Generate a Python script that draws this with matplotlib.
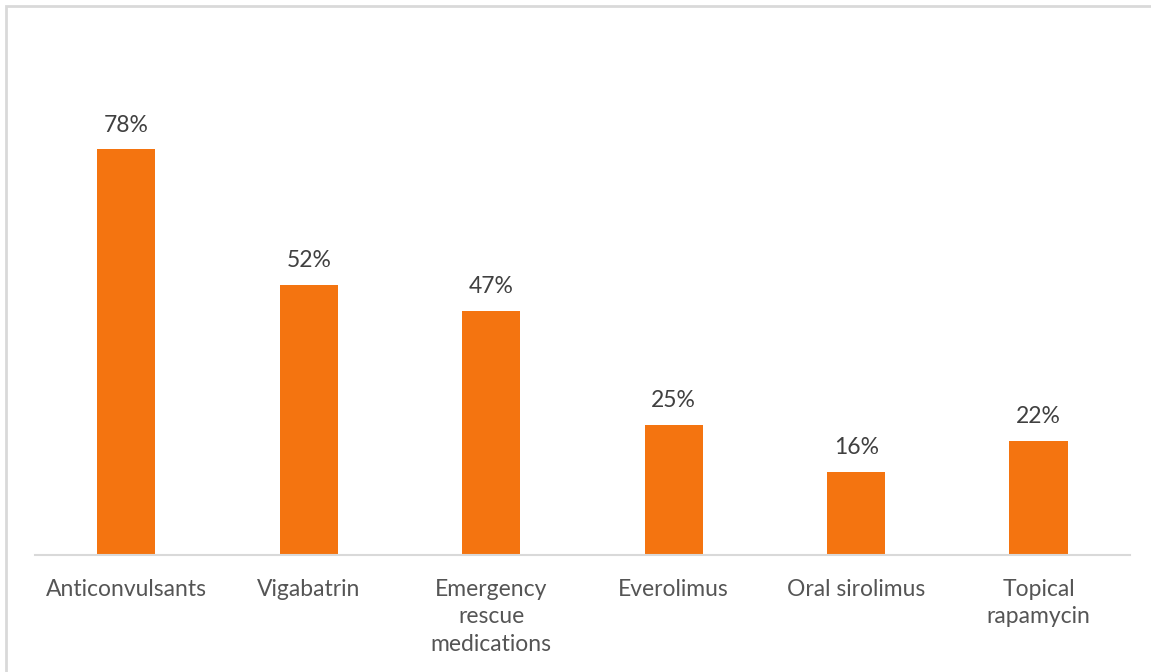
import matplotlib.pyplot as plt
from matplotlib.patches import Rectangle

categories = ['Anticonvulsants', 'Vigabatrin', 'Emergency\nrescue\nmedications',
              'Everolimus', 'Oral sirolimus', 'Topical\nrapamycin']
values = [78, 52, 47, 25, 16, 22]

BAR_COLOR = '#F47410'
TEXT_COLOR = '#555555'

plt.rcParams['font.family'] = ['Lato', 'DejaVu Sans']

fig = plt.figure(figsize=(11.51, 6.72), dpi=100)
ax = fig.add_axes([0.0304, 0.174, 0.9513, 0.6965])

x = range(len(categories))
bars = ax.bar(x, values, width=0.32, color=BAR_COLOR, zorder=2)

for rect, v in zip(bars, values):
    ax.annotate(f'{v}%', (rect.get_x() + rect.get_width() / 2, v),
                xytext=(0, 10), textcoords='offset points',
                ha='center', va='bottom', fontsize=16.5, color='#404040')

ax.set_xlim(-0.5, len(categories) - 0.5)
ax.set_ylim(0, 90)
ax.set_yticks([])
ax.set_xticks(list(x))
ax.set_xticklabels(categories, fontsize=16.5, color=TEXT_COLOR, linespacing=1.4)
ax.tick_params(axis='x', length=0, pad=17)

for side in ['top', 'right', 'left']:
    ax.spines[side].set_visible(False)
ax.spines['bottom'].set_color('#d9d9d9')
ax.spines['bottom'].set_linewidth(1.5)

# light frame around the chart area
fig.patches.append(Rectangle((6 / 1151, -0.1), 1.2, 1 - 6 / 672 + 0.1,
                             transform=fig.transFigure, fill=False,
                             edgecolor='#d9d9d9', linewidth=2))

fig.savefig('out.png', dpi=100)
